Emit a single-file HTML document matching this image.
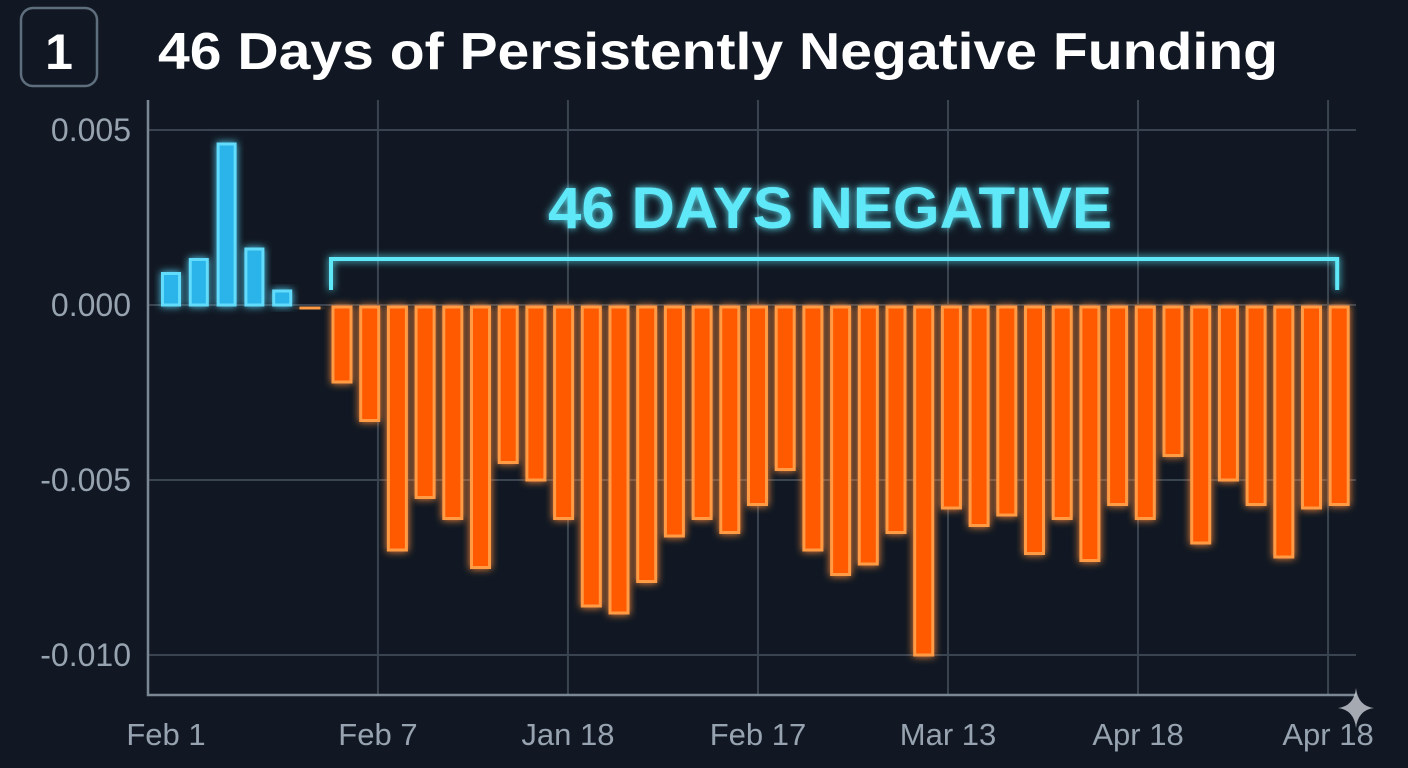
<!DOCTYPE html>
<html><head><meta charset="utf-8"><style>
html,body{margin:0;padding:0;background:#111823;}
svg{display:block;}
</style></head><body>
<svg id="chart" width="1408" height="768" viewBox="0 0 1408 768" xmlns="http://www.w3.org/2000/svg" font-family="Liberation Sans, sans-serif">
<defs>
<filter id="glowO" x="-50%" y="-20%" width="200%" height="140%"><feGaussianBlur stdDeviation="4" result="b"/><feMerge><feMergeNode in="b"/><feMergeNode in="SourceGraphic"/></feMerge></filter>
<filter id="glowB" x="-50%" y="-50%" width="200%" height="200%"><feGaussianBlur stdDeviation="4" result="b"/><feMerge><feMergeNode in="b"/><feMergeNode in="SourceGraphic"/></feMerge></filter>
</defs>
<rect width="1408" height="768" fill="#111823"/>
<rect x="21" y="8" width="76" height="78" rx="12" fill="none" stroke="#5f6e7c" stroke-width="2.5"/>
<text x="59" y="69" text-anchor="middle" font-size="50" font-weight="bold" fill="#fff">1</text>
<text x="158" y="69" font-size="52" font-weight="bold" fill="#fff" textLength="1120" lengthAdjust="spacingAndGlyphs">46 Days of Persistently Negative Funding</text>
<g id="grid"></g>
<g id="bars"></g>
<g id="annot"></g>
<g id="labels"></g>
<path d="M1356 688 Q1358 706 1374 708 Q1358 710 1356 728 Q1354 710 1338 708 Q1354 706 1356 688Z" fill="#c9ced6" opacity="0.8"/>
</svg>
<script>
const categories = ["d1","d2","d3","d4","d5","d6","d7","d8","d9","d10","d11","d12","d13","d14","d15","d16","d17","d18","d19","d20","d21","d22","d23","d24","d25","d26","d27","d28","d29","d30","d31","d32","d33","d34","d35","d36","d37","d38","d39","d40","d41","d42","d43"];
const fundingValues = [0.0009,0.0013,0.0046,0.0016,0.0004,-0.0001,
-0.0022,-0.0033,-0.0070,-0.0055,-0.0061,-0.0075,-0.0045,-0.0050,-0.0061,-0.0086,-0.0088,-0.0079,-0.0066,-0.0061,-0.0065,
-0.0057,-0.0047,-0.0070,-0.0077,-0.0074,-0.0065,-0.0100,-0.0058,-0.0063,-0.0060,-0.0071,-0.0061,-0.0073,-0.0057,-0.0061,
-0.0043,-0.0068,-0.0050,-0.0057,-0.0072,-0.0058,-0.0057];
const yTicks = [0.005,0,-0.005,-0.010];
const yTickLabels = ["0.005","0.000","-0.005","-0.010"];
const xTickIndex = [0,7.46,14.31,21.16,28.01,34.86,41.71];
const xTickLabels = ["Feb 1","Feb 7","Jan 18","Feb 17","Mar 13","Apr 18","Apr 18"];
const bracketStart = 6, bracketEnd = 42;
const annotText = "46 DAYS NEGATIVE";

const NS="http://www.w3.org/2000/svg";
const y = v => 305 - v*35000;
const xg = i => 171 + i*27.74;
const xc = i => i < 6 ? 171 + i*27.8 : 342 + (i-6)*27.7;
const bw = 18;
function mk(tag, attrs, parent){const e=document.createElementNS(NS,tag);for(const k in attrs)e.setAttribute(k,attrs[k]);parent.appendChild(e);return e;}
const grid=document.getElementById('grid'), bars=document.getElementById('bars'), annot=document.getElementById('annot'), labels=document.getElementById('labels');

yTicks.forEach((t,i)=>{
  const l=mk('line',{x1:148,x2:1356,y1:y(t),y2:y(t),stroke:'#3a4450','stroke-width':2},grid);
  
  
  const tx=mk('text',{x:131,y:y(t)+11,'text-anchor':'end','font-size':32,fill:'#97a3b0'},labels);
  tx.textContent=yTickLabels[i];
  
  
});
xTickIndex.forEach((ix,i)=>{
  const xx=xg(ix);
  if(i>0){
    const l=mk('line',{x1:xx,x2:xx,y1:100,y2:695,stroke:'#3a4450','stroke-width':2},grid);
    
    
  }
  const tx=mk('text',{x:(i==0?166:xx),y:745,'text-anchor':'middle','font-size':31,fill:'#97a3b0'},labels);
  tx.textContent=xTickLabels[i];
  
  
});
const ax=mk('path',{d:'M148 100 V695 H1356',fill:'none',stroke:'#7b8794','stroke-width':2.5},grid);



fundingValues.forEach((v,i)=>{
  const pos=v>=0;
  const top=pos?y(v):y(0)+2, h=Math.max(Math.abs(y(v)-y(0)),4);
  const w=pos?17:bw;
  const r=mk('rect',{x:xc(i)-w/2,y:pos?top:y(0)+2,width:w,height:pos?h:h-2,
    fill:pos?'#2ab4ea':'#ff5a00',stroke:pos?'#62dcfa':'#ff9a45','stroke-width':3,
    filter:pos?'url(#glowB)':'url(#glowO)'},bars);
  
  
});

const x0=xc(bracketStart)-11, x1=xc(bracketEnd)-2;
const br=mk('path',{d:`M${x0} 290 V259 H${x1} V290`,fill:'none',stroke:'#5ee8f8','stroke-width':4,filter:'url(#glowB)'},annot);


const at=mk('text',{x:830,y:228,'text-anchor':'middle','font-size':58,'font-weight':'bold',fill:'#5ee8f8',filter:'url(#glowB)',textLength:564,lengthAdjust:'spacingAndGlyphs'},annot);
at.textContent=annotText;


</script>
</body></html>
